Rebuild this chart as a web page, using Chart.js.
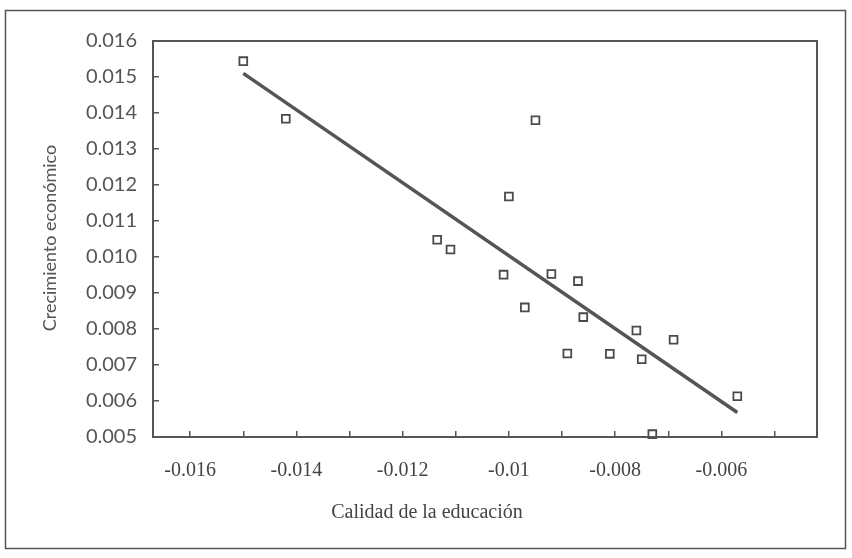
<!DOCTYPE html>
<html>
<head>
<meta charset="utf-8">
<script src="https://cdn.jsdelivr.net/npm/chart.js@4"></script>
<style>
  html, body { margin: 0; padding: 0; background: #fff; }
  #caja { width: 852px; height: 558px; }
</style>
</head>
<body>
<div id="caja"><canvas id="grafico" width="852" height="558"></canvas></div>
<script>
// Calidad de la educación (x) y crecimiento económico (y)
const calidadEducacion = [-0.0150, -0.0142, -0.0095, -0.0100, -0.01135, -0.0111, -0.0101, -0.0092, -0.0087,
  -0.0097, -0.0086, -0.0076, -0.0069, -0.0089, -0.0081, -0.0075, -0.0057, -0.0073];
const crecimiento = [0.01544, 0.01384, 0.0138, 0.01168, 0.01048, 0.01021, 0.00951, 0.00953, 0.00933,
  0.0086, 0.00833, 0.00796, 0.0077, 0.00732, 0.00731, 0.00716, 0.00613, 0.00508];

// recta de tendencia (extremos)
const tendenciaX = [-0.0150, -0.0057];
const tendenciaY = [0.0151, 0.00568];

const xTicks = [-0.016, -0.015, -0.014, -0.013, -0.012, -0.011, -0.010, -0.009, -0.008, -0.007, -0.006, -0.005];
const xEtiquetas = ['-0.016', '', '-0.014', '', '-0.012', '', '-0.01', '', '-0.008', '', '-0.006', ''];
const yTicks = [0.005, 0.006, 0.007, 0.008, 0.009, 0.010, 0.011, 0.012, 0.013, 0.014, 0.015, 0.016];
const yEtiquetas = ['0.005', '0.006', '0.007', '0.008', '0.009', '0.010', '0.011', '0.012', '0.013', '0.014', '0.015', '0.016'];

const tituloX = 'Calidad de la educación';
const tituloY = 'Crecimiento económico';

const gris = '#555';

const marcos = {
  id: 'marcos',
  afterDraw(chart) {
    const { ctx, chartArea: a } = chart;
    ctx.save();
    ctx.strokeStyle = gris;
    ctx.lineWidth = 2;
    ctx.strokeRect(a.left, a.top, a.right - a.left, a.bottom - a.top);
    ctx.lineWidth = 1.5;
    ctx.strokeRect(5.5, 10.5, 840, 538);

    ctx.fillStyle = '#444';
    ctx.textAlign = 'center';
    ctx.textBaseline = 'middle';
    ctx.font = '20px "Liberation Serif"';
    ctx.fillText(tituloX, 427, 513);

    ctx.translate(50, 238);
    ctx.rotate(-Math.PI / 2);
    ctx.fillStyle = gris;
    ctx.font = '18px Lato';
    ctx.fillText(tituloY, 0, 0);
    ctx.restore();
  }
};

const ctx = document.getElementById('grafico').getContext('2d');

new Chart(ctx, {
  type: 'scatter',
  data: {
    datasets: [{
      label: 'Observaciones',
      data: calidadEducacion.map((x, i) => ({ x: x, y: crecimiento[i] })),
      pointStyle: 'rect',
      pointRadius: 5.5,
      pointBorderWidth: 1.8,
      pointBorderColor: '#4a4a4a',
      pointBackgroundColor: '#fff',
      clip: false
    }, {
      label: 'Tendencia',
      data: tendenciaX.map((x, i) => ({ x: x, y: tendenciaY[i] })),
      showLine: true,
      borderColor: '#555',
      borderWidth: 3.5,
      pointRadius: 0
    }]
  },
  options: {
    responsive: false,
    animation: false,
    layout: {
      padding: { left: 0, top: 41, right: 35, bottom: 0 }
    },
    plugins: {
      legend: { display: false },
      tooltip: { enabled: false }
    },
    scales: {
      x: {
        type: 'linear',
        min: -0.0167,
        max: -0.0042,
        afterBuildTicks: (scale) => { scale.ticks = xTicks.map(v => ({ value: v })); },
        afterFit: (scale) => { scale.height = 121; },
        grid: { drawOnChartArea: false, drawTicks: true, tickLength: -6, color: gris, lineWidth: 1.5 },
        border: { display: true, color: gris, width: 2 },
        ticks: {
          padding: 28,
          color: '#444',
          font: { family: '"Liberation Serif"', size: 20 },
          maxRotation: 0,
          autoSkip: false,
          callback: (v, i) => xEtiquetas[i]
        }
      },
      y: {
        type: 'linear',
        min: 0.005,
        max: 0.016,
        afterBuildTicks: (scale) => { scale.ticks = yTicks.map(v => ({ value: v })); },
        afterFit: (scale) => { scale.width = 153; },
        grid: { drawOnChartArea: false, drawTicks: true, tickLength: -6, color: gris, lineWidth: 1.5 },
        border: { display: true, color: gris, width: 2 },
        ticks: {
          padding: 22,
          color: gris,
          font: { family: 'Lato', size: 20 },
          autoSkip: false,
          callback: (v, i) => yEtiquetas[i]
        }
      }
    }
  },
  plugins: [marcos]
});
</script>
</body>
</html>
